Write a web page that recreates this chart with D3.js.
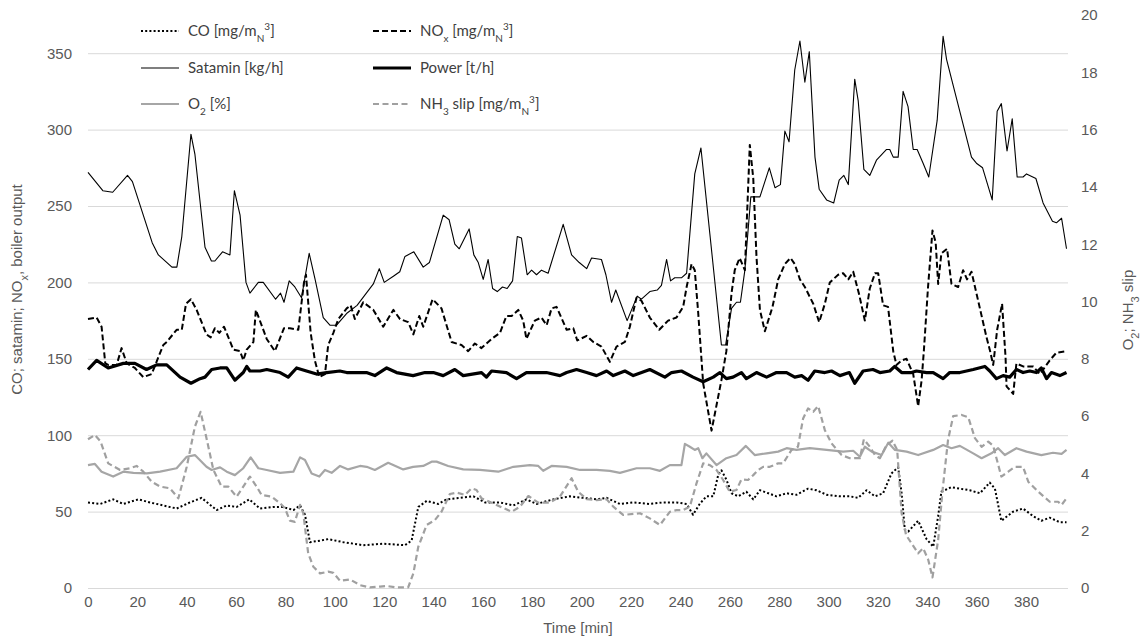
<!DOCTYPE html>
<html>
<head>
<meta charset="utf-8">
<script src="https://cdn.jsdelivr.net/npm/d3@7"></script>
<style>
  body { margin: 0; background: #fff; }
</style>
</head>
<body>
<div id="viz"></div>
<script>
// [time (min), value] pairs
const coData = [[0,56],[4.9,55],[10.2,58],[14.3,55],[20.4,58],[25.1,56],[30.5,54],[35.9,52],[41.3,56],[46,59],[52.1,51],[56.2,54],[60.2,53],[65.3,58],[69.7,52],[75.1,53],[79.1,53],[83.2,51],[85.9,54],[87.9,48],[89.9,30],[94,31],[97.3,32],[103.4,30],[111.5,28],[119.6,29],[128.4,28],[131.1,31],[133.8,53],[137.2,57],[141.9,55],[145.2,58],[150.7,59],[156.1,60],[160.8,56],[166.9,56],[172.3,54],[177.6,58],[181.7,55],[188.4,58],[195.2,60],[200.6,59],[206,58],[210.1,59],[215.5,55],[220.9,56],[227.6,55],[233,56],[238.4,56],[242.5,55],[245.1,48],[247.8,55],[250.5,60],[253.3,60],[255.3,74],[256.6,77],[258.6,71],[260.7,62],[263.4,60],[266.7,63],[269.5,58],[272.2,64],[275.6,62],[278.9,60],[283,62],[287,61],[291.7,65],[295.1,64],[299.2,61],[304.6,60],[308.6,60],[312,59],[315.4,64],[318.8,60],[322.1,62],[325.5,75],[328.2,79],[329.6,62],[330.9,38],[332.3,37],[336.3,44],[339.7,32],[342.4,27],[344.4,47],[345.7,63],[349.8,66],[353.2,65],[357.2,64],[361.3,62],[365.3,69],[367.4,65],[370,44],[374.8,50],[378.8,52],[382.9,47],[386.2,44],[389.6,46],[393.7,43],[396.4,43]];

const noxData = [[0,176],[3.5,177],[5.5,171],[7,147],[8.2,146],[11.6,146],[13.6,157],[15.7,147],[19,144],[22.4,138],[25.8,140],[28.5,151],[30.5,159],[31.9,161],[35.9,169],[38,169],[39.7,186],[41.7,189],[44,182],[48,166],[49.7,164],[51.4,170],[53.2,167],[55.1,171],[58.9,156],[61.6,155],[62.9,149],[64.3,156],[67,161],[68,182],[72.4,163],[75.7,155],[79.4,170],[81.8,170],[85.2,169],[87.5,200],[88.3,205],[90.2,167],[91.9,149],[93.7,138],[96,140],[97.3,159],[99.4,167],[101.4,176],[104.8,183],[106.4,185],[108.1,176],[111.5,187],[115.6,182],[119.6,171],[123.7,182],[126.4,176],[129.7,174],[131.8,166],[134.2,178],[135.8,171],[139.6,189],[143.2,183],[147.3,161],[151.3,159],[154,155],[156.7,160],[159.4,157],[163.5,163],[166.9,167],[169.5,178],[171.6,178],[174.3,182],[176.3,175],[177.6,163],[181,175],[183.7,177],[185.8,172],[187.8,183],[189.8,184],[193.9,169],[196.6,170],[198.2,162],[202,165],[204.7,161],[208,158],[211.4,148],[214.1,158],[217.5,161],[219.5,171],[222.2,190],[224.2,188],[227.6,177],[231.4,169],[235,175],[238.4,177],[241.1,184],[242.5,197],[244.5,212],[245.8,208],[247.2,180],[248.5,150],[249.2,134],[252.6,103],[256.6,136],[258.6,155],[260.7,193],[262,208],[264,216],[266.1,208],[268.1,290],[269.5,268],[270.8,217],[272.2,182],[274.2,168],[277.3,184],[279.6,202],[282.3,212],[284.6,216],[286.3,212],[288.4,202],[290.4,197],[293.8,186],[296.2,174],[298.5,186],[300.5,200],[303.9,205],[305.9,206],[308,202],[310,207],[312.4,192],[314.7,175],[316.7,196],[318.8,206],[320.1,206],[322.1,185],[324.1,184],[326.2,155],[327.5,146],[329.6,149],[331.6,150],[334.3,140],[336.3,119],[337.7,136],[338.6,155],[340.3,197],[342.1,234],[343.4,226],[344.4,199],[345.7,219],[348,222],[349.8,199],[352.5,197],[354.5,208],[356.1,202],[357.9,207],[360.6,188],[364,164],[365.3,156],[366.7,146],[368.3,169],[370.3,186],[371.7,151],[372.1,132],[374.8,127],[376.1,147],[378.8,145],[382.9,145],[385.6,140],[389.6,149],[392.3,154],[396.4,155]];

const sataminData = [[0,272],[6,260],[10,259],[16,270],[18,266],[26,226],[28.5,218],[34,210],[36,210],[38,230],[41.7,297],[43.3,284],[47.4,223],[50,214],[51.4,214],[54.5,220],[57.5,218],[59.3,260],[61.6,244],[64,200],[65.6,193],[69,200],[71,200],[76,189],[78,193],[79.4,187],[81.5,201],[83.8,197],[86.5,190],[89.6,219],[92,202],[95.3,177],[98,172],[100.7,172],[105,180],[109,185],[115.6,199],[118,209],[120,200],[123.7,204],[126.3,207],[128.4,217],[132,220],[135.8,210],[138.3,213],[143.9,244],[146.3,241],[148.6,225],[150.4,222],[154.4,235],[156.3,218],[158.1,213],[160.1,202],[162.1,215],[163.9,196],[165.8,194],[167.9,197],[169.8,196],[172,201],[173.9,230],[175.6,229],[177.9,205],[179.7,208],[181.7,205],[183.7,208],[186.4,206],[192.5,238],[195.9,218],[199,213],[202,209],[204,216],[208,215],[209.8,205],[212.1,187],[213.8,195],[218.4,175],[222.5,191],[224.2,189],[227.6,194],[230.6,195],[232.3,198],[234.4,215],[236,201],[237.7,203],[240.4,203],[242.5,206],[245.8,271],[248.3,288],[251.9,232],[256.6,159],[258.3,159],[260.7,183],[262.7,187],[264.3,187],[266.1,208],[268.5,256],[272.2,256],[276,275],[278.3,262],[280.5,264],[282.3,299],[284,292],[286.3,339],[288.4,358],[290.4,331],[292.2,351],[294.5,282],[296.2,261],[299.2,254],[302.1,252],[304.3,267],[306.2,270],[308,264],[310.6,333],[312,319],[314.3,274],[316.7,270],[319.4,280],[323.5,287],[324.8,287],[326.2,282],[328.2,282],[330.2,325],[332.2,315],[334.3,287],[335.9,287],[338.3,278],[340.6,269],[344,306],[346.4,361],[347.8,346],[351.1,325],[357.9,282],[359.9,278],[362.4,275],[366.3,254],[368.3,312],[370,317],[372.3,286],[374.4,307],[376.4,269],[378.8,269],[380.2,271],[384,268],[386.9,252],[390.7,240],[392.3,239],[394.4,242],[396.4,222]];

const powerData = [[0,143],[3.5,149],[8.2,144],[14.3,147],[19,147],[23.7,143],[27.8,146],[31.9,146],[37.3,138],[41.7,134],[45.4,137],[47.4,138],[50.1,143],[53.5,144],[56.2,144],[59.5,136],[62.9,141],[64.3,145],[65.6,142],[69.7,142],[72.4,143],[77.8,141],[81.1,138],[84.5,144],[88.5,142],[92.6,140],[96.7,141],[102,142],[104.8,141],[112.8,141],[116.2,139],[121,144],[125,141],[131.7,139],[136.5,141],[139.9,141],[143.9,139],[148.6,143],[152,139],[159.4,141],[161.4,138],[163.5,142],[169.5,141],[173.6,137],[177.6,141],[181.7,141],[185.7,141],[191.2,139],[193.9,141],[197.9,143],[202,141],[206,139],[210.1,142],[212.8,139],[217.5,142],[220.9,139],[227.6,143],[233.7,138],[236.4,141],[240.4,142],[245.1,138],[249.2,135],[253.3,138],[256,141],[258.6,137],[261.3,138],[264.7,141],[266.7,137],[270.8,141],[274.9,138],[278.9,141],[283,141],[286.3,138],[289.1,139],[291.7,136],[294.4,142],[298.5,141],[301.2,142],[304.6,139],[308.4,141],[310.6,134],[314,142],[318,143],[320.8,141],[324.8,142],[326.8,145],[329.6,141],[333.6,141],[335.6,142],[339.7,141],[342.4,141],[346.4,137],[349.1,141],[353.2,141],[358.6,143],[363.3,145],[365.3,142],[368,137],[370.7,139],[373.4,138],[376.1,143],[378.8,141],[381.5,142],[384.2,141],[386.2,144],[388.3,137],[390.3,141],[393.7,139],[396.4,141]];

const o2Data = [[0,4.29],[2.8,4.33],[5.5,4.06],[10.2,3.89],[14.3,4.06],[18.4,4.02],[23.8,4.0],[29.2,4.06],[35.9,4.18],[40,4.58],[43.3,4.64],[48,4.23],[50.1,4.12],[53.5,4.21],[56.2,4.06],[59.5,3.94],[62.9,4.18],[65.9,4.56],[69,4.18],[72.4,4.12],[77.8,4.02],[83.2,4.06],[85.9,4.56],[87.9,4.47],[90.6,4.0],[93.7,3.89],[96,4.12],[98.7,4.02],[102.1,4.26],[105.4,4.14],[110.2,4.26],[112.9,4.23],[116.2,4.12],[121.6,4.37],[127.7,4.14],[131.7,4.23],[135.8,4.26],[139.2,4.41],[141.2,4.41],[145.9,4.26],[152,4.14],[158.8,4.12],[166.2,4.06],[172.3,4.23],[179,4.29],[182.4,4.26],[184.4,4.09],[187.8,4.26],[193.9,4.23],[199.3,4.12],[206,4.12],[211.4,4.09],[215.5,4.02],[222.2,4.18],[227.6,4.18],[231.7,4.09],[235.7,4.29],[240.4,4.29],[241.8,5.03],[243.8,4.93],[245.8,4.82],[247.2,4.88],[248.9,4.53],[250.5,4.7],[254.6,4.29],[258.6,4.53],[262.7,4.64],[266.5,4.96],[270.1,4.64],[274.9,4.7],[279.6,4.76],[283,4.88],[287,4.82],[292.4,4.88],[299.2,4.82],[305.9,4.76],[310,4.79],[312.7,4.58],[314.7,4.93],[317.5,4.76],[321.5,4.64],[324.2,5.07],[326.9,4.82],[331.6,4.76],[336.3,4.64],[342.4,4.82],[346.4,4.99],[349.8,4.88],[353.2,4.96],[358.6,4.7],[362,4.53],[366,4.7],[368.7,4.88],[371.4,4.64],[376.1,4.88],[380.2,4.76],[386.2,4.64],[390.9,4.72],[394.4,4.68],[396.4,4.82]];

const nh3Data = [[0,5.19],[2.8,5.34],[5.1,5.11],[8.2,4.35],[13,4.12],[17,4.18],[19.7,4.26],[22.4,4.06],[25.8,3.71],[29.2,3.54],[33.2,3.48],[36.6,3.13],[40,4.23],[43.3,5.63],[45.6,6.15],[48,5.23],[50.8,4.12],[54.1,3.54],[56.8,3.54],[60.2,3.19],[62.9,3.54],[65.6,3.89],[68.3,3.54],[70.3,3.25],[74.4,3.19],[77.8,2.96],[79.8,2.78],[81.8,2.35],[83.8,2.31],[85.9,2.9],[87.2,2.61],[89.2,1.21],[91.3,0.74],[94,0.51],[97.3,0.57],[99.4,0.53],[102.1,0.25],[106.1,0.3],[110.2,0.1],[114.2,0.02],[118.3,0.05],[121,0.07],[125,0.02],[129.7,0.02],[131.8,0.51],[133.8,1.44],[137.2,2.2],[140.5,2.37],[143.2,2.66],[146.6,3.28],[149.3,3.33],[152.7,3.25],[155.4,3.48],[157.4,3.42],[159.4,3.13],[165.5,2.9],[171.6,2.66],[175,2.84],[178.4,3.21],[182.4,2.98],[187.1,2.98],[191.2,3.19],[195.9,3.83],[198.6,3.36],[202,3.1],[206,3.07],[210.1,3.1],[212.8,2.84],[216.8,2.55],[223.6,2.61],[227.6,2.43],[231.7,2.2],[235.7,2.66],[238.4,2.72],[241.1,2.72],[243.8,2.84],[246.5,3.65],[249.2,4.35],[251.9,4.29],[254.6,4.12],[257.3,3.77],[260,3.36],[262.7,3.42],[264.7,3.79],[267.4,3.77],[269.5,3.94],[271.5,4.12],[273.5,4.23],[276.2,4.23],[279.6,4.35],[281.6,4.35],[285,4.82],[287.6,4.93],[289.7,5.92],[291.7,6.27],[293.8,6.15],[295.8,6.35],[298.5,5.51],[301.2,5.05],[305.3,4.64],[308.6,4.53],[312.7,4.53],[314.3,5.19],[316.7,4.93],[318.8,4.64],[320.8,4.53],[323.5,4.99],[325.9,5.14],[327.8,4.82],[329.6,2.61],[331.4,1.85],[333.6,1.56],[336.3,1.21],[338.3,1.39],[340.4,0.98],[342.1,0.37],[344.4,1.68],[346.2,3.42],[348.4,5.17],[350.5,6.0],[353.9,6.04],[356.6,5.96],[359.3,5.23],[362,4.93],[364.7,5.11],[366.7,4.96],[370,3.89],[372.8,4.06],[375.5,4.23],[378.8,4.23],[380.9,3.71],[385,3.36],[389.6,3.01],[393,3.01],[394.4,2.9],[396.4,3.13]];

const xTicks = d3.range(0, 381, 20);
const leftTicks = d3.range(0, 351, 50);
const rightTicks = d3.range(0, 21, 2);

const width = 1143;
const height = 640;
const plot = {left: 88, right: 1068, top: 15, bottom: 588};
const textColor = '#595959';
const axisFont = "'Liberation Sans', Arial, sans-serif";
const legendFont = "Lato, 'Open Sans', sans-serif";

const svg = d3.select('#viz').append('svg')
  .attr('width', width)
  .attr('height', height);

const x = d3.scaleLinear().domain([0, 397]).range([plot.left, plot.right]);
const yLeft = d3.scaleLinear().domain([0, 375]).range([plot.bottom, plot.top]);
const yRight = d3.scaleLinear().domain([0, 20]).range([plot.bottom, plot.top]);

// gridlines + left labels
const gLeft = svg.append('g')
  .attr('transform', `translate(${plot.left},0)`)
  .call(d3.axisLeft(yLeft).tickValues(leftTicks)
    .tickSize(-(plot.right - plot.left)).tickPadding(16));
gLeft.select('.domain').remove();
gLeft.selectAll('line').attr('stroke', '#d9d9d9').attr('stroke-width', 1);

const gRight = svg.append('g')
  .attr('transform', `translate(${plot.right},0)`)
  .call(d3.axisRight(yRight).tickValues(rightTicks).tickSize(0).tickPadding(13));
gRight.select('.domain').remove();

const gBottom = svg.append('g')
  .attr('transform', `translate(0,${plot.bottom})`)
  .call(d3.axisBottom(x).tickValues(xTicks).tickSize(0).tickPadding(8));
gBottom.select('.domain').remove();

svg.selectAll('.tick text')
  .attr('fill', textColor)
  .style('font-family', axisFont)
  .style('font-size', '15px');

// axis titles
svg.append('text')
  .attr('x', (plot.left + plot.right) / 2)
  .attr('y', 633)
  .attr('text-anchor', 'middle')
  .attr('fill', textColor)
  .style('font-family', axisFont)
  .style('font-size', '15px')
  .text('Time [min]');

const leftTitle = svg.append('text')
  .attr('transform', `translate(22,${(plot.top + plot.bottom) / 2 - 12}) rotate(-90)`)
  .attr('text-anchor', 'middle')
  .attr('fill', textColor)
  .style('font-family', axisFont)
  .style('font-size', '15px');
leftTitle.append('tspan').text('CO; satamin; NO');
leftTitle.append('tspan').attr('baseline-shift', 'sub').style('font-size', '11px').text('x');
leftTitle.append('tspan').text(', boiler output');

const rightTitle = svg.append('text')
  .attr('transform', `translate(1133,310) rotate(-90)`)
  .attr('text-anchor', 'middle')
  .attr('fill', textColor)
  .style('font-family', axisFont)
  .style('font-size', '15px');
rightTitle.append('tspan').text('O');
rightTitle.append('tspan').attr('baseline-shift', 'sub').style('font-size', '11px').text('2');
rightTitle.append('tspan').text('; NH');
rightTitle.append('tspan').attr('baseline-shift', 'sub').style('font-size', '11px').text('3');
rightTitle.append('tspan').text(' slip');

// series
const series = [
  {data: coData, y: yLeft, color: '#000', width: 2, dash: '2,2.2'},
  {data: noxData, y: yLeft, color: '#000', width: 2, dash: '6,3'},
  {data: sataminData, y: yLeft, color: '#000', width: 1.1, dash: null},
  {data: powerData, y: yLeft, color: '#000', width: 3.2, dash: null},
  {data: o2Data, y: yRight, color: '#a6a6a6', width: 2.2, dash: null},
  {data: nh3Data, y: yRight, color: '#a0a0a0', width: 2.2, dash: '6,3.5'},
];

series.forEach(s => {
  const line = d3.line().x(d => x(d[0])).y(d => s.y(d[1]));
  svg.append('g')
    .append('path')
    .attr('d', line(s.data))
    .style('fill', 'none')
    .style('stroke', s.color)
    .style('stroke-width', s.width)
    .style('stroke-dasharray', s.dash)
    .style('stroke-linejoin', 'round');
});

// legend
const legendItems = [
  {col: 0, row: 0, s: series[0], label: [['CO [mg/m'], ['N', 'sub'], ['3', 'super'], [']']]},
  {col: 1, row: 0, s: series[1], label: [['NO'], ['x', 'sub'], [' [mg/m'], ['N', 'sub'], ['3', 'super'], [']']]},
  {col: 0, row: 1, s: series[2], label: [['Satamin [kg/h]']]},
  {col: 1, row: 1, s: series[3], label: [['Power [t/h]']]},
  {col: 0, row: 2, s: series[4], label: [['O'], ['2', 'sub'], [' [%]']]},
  {col: 1, row: 2, s: series[5], label: [['NH'], ['3', 'sub'], [' slip [mg/m'], ['N', 'sub'], ['3', 'super'], [']']]},
];
const colX = [141, 373];
const rowY = [31, 68, 104];

const legend = svg.append('g');
legendItems.forEach(item => {
  const lx = colX[item.col];
  const ly = rowY[item.row];
  legend.append('line')
    .attr('x1', lx).attr('x2', lx + 38)
    .attr('y1', ly).attr('y2', ly)
    .style('stroke', item.s.color)
    .style('stroke-width', item.s.width)
    .style('stroke-dasharray', item.s.dash);
  const t = legend.append('text')
    .attr('x', lx + 47)
    .attr('y', ly + 5)
    .attr('fill', '#404040')
    .style('font-family', legendFont)
    .style('font-size', '15px');
  item.label.forEach(([txt, shift]) => {
    const span = t.append('tspan').text(txt);
    if (shift) span.attr('baseline-shift', shift).style('font-size', '10px');
  });
});
</script>
</body>
</html>
